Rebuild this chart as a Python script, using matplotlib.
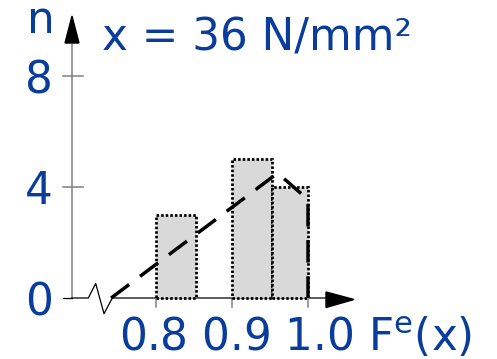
import matplotlib
matplotlib.use("Agg")
import matplotlib.pyplot as plt
from matplotlib.patches import Polygon

# ---- data ----
bar_left = [0.800, 0.900, 0.952]
bar_right = [0.853, 0.952, 1.000]
bar_counts = [3, 5, 4]
curve_x = [0.741, 0.960, 1.000, 1.000]
curve_y = [0.0, 4.5, 3.55, 0.0]
x_ticks = [0.8, 0.9, 1.0]
x_tick_labels = ["0.8", "0.9", "1.0"]
y_ticks = [0, 4, 8]
y_tick_labels = ["0", "4", "8"]
title = "x = 36 N/mm²"
y_name = "n"
x_name = r"F$^{\mathrm{e}}$(x)"

plt.rcParams['font.family'] = ['DejaVu Sans']
plt.rcParams['mathtext.fontset'] = 'dejavusans'

W, H = 497, 359
BLUE = '#0a3c9c'
FS = 31.5

# pixel mapping (layout)
X0PX, XPX = 156.0, 760.0   # x=0.8 at px 156, 760 px per unit
Y0PX, YPX = 298.0, 27.75   # y=0 at py 298

def px2x(px):
    return 0.8 + (px - X0PX) / XPX

def py2y(py):
    return (Y0PX - py) / YPX

fig = plt.figure(figsize=(W / 100, H / 100), dpi=100)
ax = fig.add_axes([0, 0, 1, 1])
ax.set_xlim(px2x(0), px2x(W))
ax.set_ylim(py2y(H), py2y(0))
ax.axis('off')

# bars
widths = [r - l for l, r in zip(bar_left, bar_right)]
ax.bar(bar_left, bar_counts, width=widths, align='edge', color='#d9d9d9',
       edgecolor='black', linewidth=2.0, linestyle=(0, (0.9, 0.75)), zorder=2)

# dashed curve
ax.plot(curve_x, curve_y, color='black', linewidth=2.5, dashes=(6.5, 3.9),
        solid_capstyle='butt', dash_capstyle='butt', zorder=3)

# y axis (gray) with arrow
ax.plot([px2x(72), px2x(72)], [0, py2y(40)], color='#808080', lw=1.1, zorder=1)
ax.add_patch(Polygon([(px2x(72), py2y(16)), (px2x(65), py2y(43)), (px2x(79), py2y(43))],
                     closed=True, color='black', zorder=4))
for t in y_ticks[1:]:
    ax.plot([px2x(63), px2x(83)], [t, t], color='#808080', lw=1.1, zorder=1)
ax.plot([px2x(63), px2x(72)], [0, 0], color='black', lw=0.9, zorder=1)

# x axis with break
ax.plot([px2x(72), px2x(88.3), px2x(95.7), px2x(104), px2x(112.3), px2x(328)],
        [0, 0, py2y(283.5), py2y(313.7), 0, 0], color='black', lw=0.9, zorder=1)
ax.add_patch(Polygon([(px2x(354), py2y(299.5)), (px2x(326), py2y(292)), (px2x(326), py2y(307.5))],
                     closed=True, color='black', zorder=4))
for t in x_ticks:
    ax.plot([t, t], [0, py2y(307)], color='#808080', lw=1.1, zorder=1)

# texts
ax.text(px2x(119), py2y(351), " ".join(x_tick_labels) + " " + x_name,
        color=BLUE, fontsize=FS, ha='left', va='baseline')
for t, lab in zip(y_ticks, y_tick_labels):
    ax.text(px2x(53), t, lab, color=BLUE, fontsize=FS, ha='right', va='center_baseline')
ax.text(px2x(40.5), py2y(33), y_name, color=BLUE, fontsize=FS, ha='center', va='baseline')
ax.text(px2x(102), py2y(50), title, color=BLUE, fontsize=FS, ha='left', va='baseline')

fig.savefig('out.png', dpi=100)
